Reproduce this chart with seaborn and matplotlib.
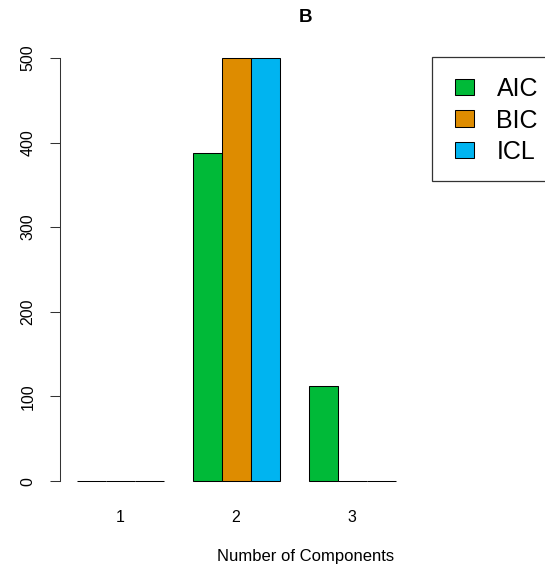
import matplotlib
matplotlib.use("Agg")
import matplotlib.pyplot as plt
import seaborn as sns
import pandas as pd
from matplotlib.patches import Patch, Rectangle

components = ["1", "2", "3"]
criteria = ["AIC", "BIC", "ICL"]
aic = [0, 388, 112]
bic = [0, 500, 0]
icl = [0, 500, 0]
colors = ["#00BA38", "#DE8C00", "#00B4F0"]
yticks = [0, 100, 200, 300, 400, 500]

rows = []
for crit, vals in zip(criteria, [aic, bic, icl]):
    for c, v in zip(components, vals):
        rows.append({"k": c, "count": v, "crit": crit})
df = pd.DataFrame(rows)

sns.set_style("white")
plt.rcParams["font.family"] = ["Liberation Sans", "DejaVu Sans"]

W, H = 545, 571
fig = plt.figure(figsize=(W / 100, H / 100), dpi=100)
left_px, right_px, top_px, bot_px = 60, 552, 41, 498
ax = fig.add_axes([left_px / W, 1 - bot_px / H, (right_px - left_px) / W, (bot_px - top_px) / H])

sns.barplot(data=df, x="k", y="count", hue="crit", order=components, hue_order=criteria,
            palette=colors, width=0.75, edgecolor="black", linewidth=0.75,
            saturation=1, ax=ax, legend=False)

ax.set_xlim((left_px - 120) / 116, (right_px - 120) / 116)
ax.set_ylim(-20, 520)
ax.set_xlabel("")
ax.set_ylabel("")
for s in ["top", "right", "bottom"]:
    ax.spines[s].set_visible(False)
ax.spines["left"].set_bounds(0, 500)
ax.spines["left"].set_color("#333333")
ax.spines["left"].set_linewidth(0.75)
ax.set_yticks(yticks)
ax.set_yticklabels([str(v) for v in yticks], rotation=90, va="center", fontsize=11.5, color="black")
ax.tick_params(axis="y", left=True, length=7.2, width=0.75, pad=10.5, color="#333333")
ax.tick_params(axis="x", bottom=False, length=0, pad=8.5, labelsize=11.5, labelcolor="black")

fig.text(306 / W, 1 - 17 / H, "B", ha="center", va="center", fontsize=13.5, fontweight="bold", color="black")
fig.text(306 / W, 1 - 556 / H, "Number of Components", ha="center", va="center", fontsize=12, color="black")

# legend frame (extends past the right edge, as in the reference)
fig.patches.append(Rectangle((432 / W, 1 - 181 / H), 130 / W, (181 - 57) / H,
                             transform=fig.transFigure, facecolor="white",
                             edgecolor="#333333", linewidth=0.9, zorder=5))
handles = [Patch(facecolor=c, edgecolor="black", linewidth=0.75) for c in colors]
leg = fig.legend(handles, criteria, loc="upper left", bbox_to_anchor=(455 / W, 1 - 77 / H),
                 bbox_transform=fig.transFigure, fontsize=18, frameon=False,
                 handlelength=0.76, handleheight=0.64, handletextpad=0.9,
                 labelspacing=0.3, borderpad=0, borderaxespad=0)
leg.set_zorder(6)
for t in leg.get_texts():
    t.set_color("black")

fig.savefig("out.png", dpi=100)
